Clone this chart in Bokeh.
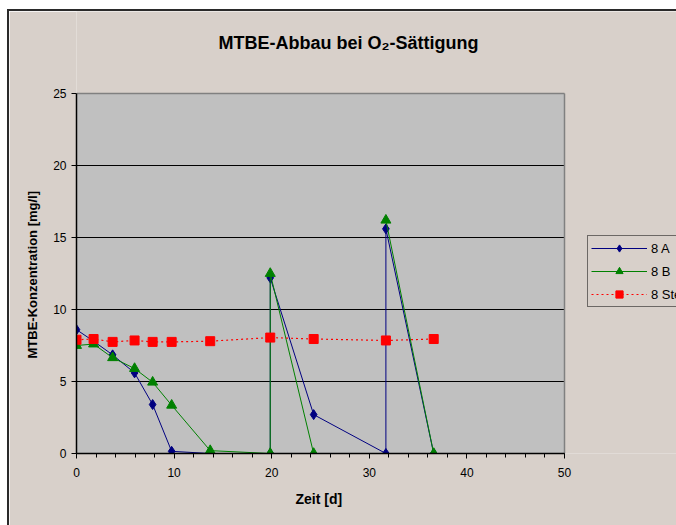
import numpy as np
from bokeh.plotting import figure
from bokeh.models import Range1d, FixedTicker, Legend, LegendItem, Title, Label
from bokeh.embed import file_html
from bokeh.resources import INLINE

# Data
x_a = [0, 1.75, 3.7, 5.95, 7.8, 9.75, 13.7, 19.85, 19.85, 24.3, 31.7, 31.7, 36.6]
y_a = [8.6, 7.8, 6.85, 5.6, 3.4, 0.15, 0.0, 0.0, 12.2, 2.7, 0.0, 15.6, 0.0]

x_b = [0, 1.75, 3.7, 5.95, 7.8, 9.75, 13.7, 19.85, 19.85, 24.3, np.nan, 31.7, 36.6]
y_b = [7.5, 7.6, 6.65, 5.9, 4.95, 3.35, 0.2, 0.0, 12.5, 0.0, np.nan, 16.2, 0.0]

x_st = [0, 1.75, 3.7, 5.95, 7.8, 9.75, 13.7, 19.85, 24.3, 31.7, 36.6]
y_st = [7.9, 7.95, 7.75, 7.85, 7.75, 7.75, 7.8, 8.05, 7.95, 7.85, 7.95]

labels = ["8 A", "8 B", "8 Steril"]
x_ticks = [0, 10, 20, 30, 40, 50]
x_minor = list(range(0, 51, 2))
y_ticks = [0, 5, 10, 15, 20, 25]
y_grid = [5, 10, 15, 20]
X_MAX = 50
Y_MAX = 25

BG = "#D8D0CA"
PLOT_BG = "#C0C0C0"
FONT = "Liberation Sans"

# the frame covers the whole chart area right of / above the axes,
# the gray plot area (488 x 360 px) is drawn inside it
PLOT_W, PLOT_H = 488, 360
FRAME_W, FRAME_H = 600, 442
px_x = PLOT_W / X_MAX
px_y = PLOT_H / Y_MAX
p = figure(frame_width=FRAME_W, frame_height=FRAME_H, output_backend="svg", toolbar_location=None,
           x_range=Range1d(0, FRAME_W / px_x), y_range=Range1d(0, FRAME_H / px_y),
           min_border_left=67, min_border_right=0, min_border_top=0, min_border_bottom=72)
p.styles = {"margin-left": "7px", "margin-top": "9px",
            "border-left": "2px solid #2a2a2a", "border-top": "2px solid #2a2a2a"}

p.background_fill_color = BG
p.border_fill_color = BG
p.outline_line_color = None

# title
p.add_layout(Label(x=142, y=PLOT_H + 51, x_units="screen", y_units="screen",
                   text="MTBE-Abbau bei O\u2082-S\u00e4ttigung", text_font=FONT,
                   text_font_size="18px", text_font_style="bold", text_color="black",
                   text_align="left", text_baseline="middle"))

# plot area, grid and border
p.quad(left=0, right=X_MAX, bottom=0, top=Y_MAX, fill_color=PLOT_BG, line_color=None)
p.segment(x0=[0] * len(y_grid), x1=[X_MAX] * len(y_grid), y0=y_grid, y1=y_grid,
          line_color="black", line_width=1)
p.segment(x0=[0, X_MAX], x1=[X_MAX, X_MAX], y0=[Y_MAX, 0], y1=[Y_MAX, Y_MAX],
          line_color="#808080", line_width=1.5)

# axes
p.xaxis.ticker = FixedTicker(ticks=x_ticks, minor_ticks=x_minor)
p.yaxis.ticker = FixedTicker(ticks=y_ticks)
p.xaxis.bounds = (0, X_MAX)
p.yaxis.bounds = (0, Y_MAX)
for ax in (p.xaxis[0], p.yaxis[0]):
    ax.axis_line_color = "black"
    ax.axis_line_width = 1.5
    ax.major_tick_line_color = "black"
    ax.minor_tick_line_color = "black"
    ax.major_tick_line_width = 1
    ax.minor_tick_line_width = 1
    ax.major_tick_out = 5
    ax.major_tick_in = 0
    ax.minor_tick_out = 4
    ax.minor_tick_in = 0
    ax.major_label_text_font = FONT
    ax.major_label_text_font_size = "12px"
    ax.major_label_text_color = "black"
p.xaxis.major_label_standoff = 9
p.yaxis.major_label_standoff = 5

xlabel = Title(text="Zeit [d]", align="left", offset=219, standoff=18,
               text_font=FONT, text_font_size="14px", text_font_style="bold",
               text_color="black")
p.add_layout(xlabel, "below")
ylabel = Title(text="MTBE-Konzentration [mg/l]", align="left", offset=95, standoff=21,
               text_font=FONT, text_font_size="13px", text_font_style="bold",
               text_color="black")
p.add_layout(ylabel, "left")

p.xgrid.visible = False
p.ygrid.visible = False

# series
la = p.line(x_a, y_a, line_color="#000080", line_width=1)
sa = p.scatter(x_a, y_a, marker="diamond", size=10,
               fill_color="#000080", line_color="#000080")
lb = p.line(x_b, y_b, line_color="#008000", line_width=1)
sb = p.scatter(x_b, y_b, marker="triangle", size=10,
               fill_color="#008000", line_color="#008000")
lst = p.line(x_st, y_st, line_color="#FF0000", line_width=1.2, line_dash="2 3")
sst = p.scatter(x_st, y_st, marker="square", size=9,
                fill_color="#FF0000", line_color="#FF0000")

legend = Legend(items=[LegendItem(label=labels[0], renderers=[la, sa]),
                       LegendItem(label=labels[1], renderers=[lb, sb]),
                       LegendItem(label=labels[2], renderers=[lst, sst])],
                location=(511, 146))
legend.background_fill_alpha = 0
legend.border_line_color = "black"
legend.border_line_width = 1
legend.label_text_font = FONT
legend.label_text_font_size = "13px"
legend.label_text_color = "black"
legend.glyph_width = 56
legend.glyph_height = 18
legend.label_height = 18
legend.spacing = 5
legend.padding = 3
legend.margin = 0
legend.label_standoff = 4
p.add_layout(legend, "center")

open("out.html", "w").write(file_html(p, INLINE))
